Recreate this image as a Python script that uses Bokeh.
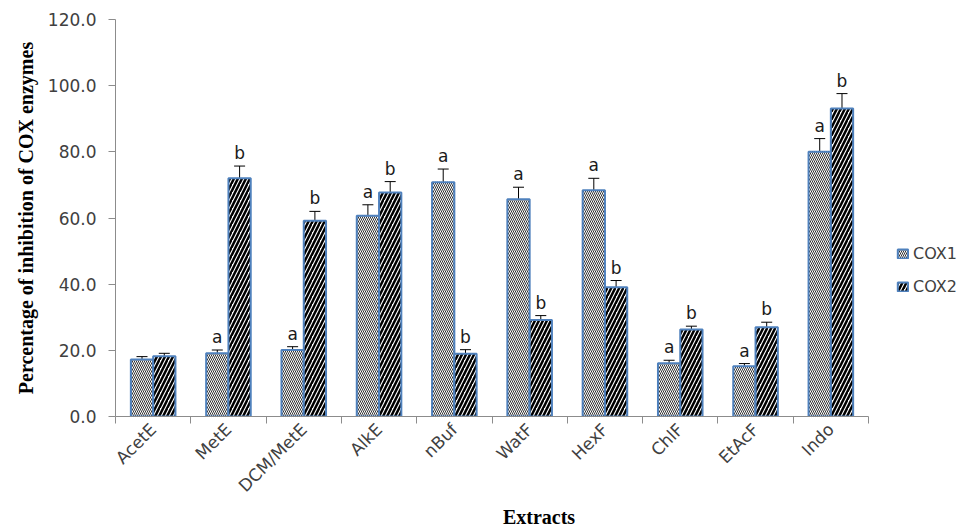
import math
from bokeh.plotting import figure
from bokeh.models import (ColumnDataSource, Range1d, LinearAxis, FixedTicker, Whisker, TeeHead,
                          Legend, LegendItem, NumeralTickFormatter, CustomJSTickFormatter)
from bokeh.core.properties import value
from bokeh.embed import file_html
from bokeh.resources import INLINE

# ---- data ----
extracts = ["AcetE", "MetE", "DCM/MetE", "AlkE", "nBuf", "WatF", "HexF", "ChlF", "EtAcF", "Indo"]
cox1 = [17.2, 19.1, 20.1, 60.7, 70.8, 65.7, 68.4, 16.1, 15.2, 80.0]
cox1_err = [0.9, 1.0, 1.0, 3.3, 4.0, 3.6, 3.6, 0.9, 0.8, 4.0]
cox2 = [18.2, 72.0, 59.2, 67.7, 19.0, 29.2, 39.1, 26.3, 27.0, 93.1]
cox2_err = [0.9, 3.7, 2.8, 3.3, 1.2, 1.3, 2.0, 1.0, 1.5, 4.5]
cox1_sig = ["", "a", "a", "a", "a", "a", "a", "a", "a", "a"]
cox2_sig = ["", "b", "b", "b", "b", "b", "b", "b", "b", "b"]
y_ticks = [0, 20, 40, 60, 80, 100, 120]
series_names = ["COX1", "COX2"]

n = len(extracts)
off = 0.148   # half of the pair, in category units
w = 0.296
centers = [i + 0.5 for i in range(n)]
x1 = [c - off for c in centers]
x2 = [c + off for c in centers]

src = ColumnDataSource(dict(
    x1=x1, x2=x2,
    cox1=cox1, cox1_lo=[v - e for v, e in zip(cox1, cox1_err)], cox1_hi=[v + e for v, e in zip(cox1, cox1_err)],
    cox2=cox2, cox2_lo=[v - e for v, e in zip(cox2, cox2_err)], cox2_hi=[v + e for v, e in zip(cox2, cox2_err)],
))

# significance letters (only the non-empty ones are drawn)
lab_x, lab_y, lab_t = [], [], []
for xs, vals, errs, sigs in [(x1, cox1, cox1_err, cox1_sig), (x2, cox2, cox2_err, cox2_sig)]:
    for xx, v, e, s in zip(xs, vals, errs, sigs):
        if s:
            lab_x.append(xx); lab_y.append(v + e); lab_t.append(s)
lab_src = ColumnDataSource(dict(x=lab_x, y=lab_y, t=lab_t))

FONT = "DejaVu Sans"
SERIF = "Liberation Serif"
TXT = "#404040"
AXC = "#8c8c8c"
BLUE = "#4F81BD"

W, H = 962, 530
LEFT, TOP, BOTTOM = 115, 19, 113
FRAME_W = W - LEFT      # frame runs to the right edge (legend lives inside it)
CAT_W = 753             # px used by the ten categories
x_end = n * FRAME_W / CAT_W

p = figure(x_range=Range1d(0, x_end), y_range=Range1d(0, 120),
           width=W, height=H, output_backend="svg", toolbar_location=None,
           x_axis_location=None, y_axis_location=None,
           min_border_left=LEFT, min_border_top=TOP, min_border_right=0, min_border_bottom=BOTTOM)
p.outline_line_color = None
p.grid.visible = False
p.background_fill_color = "white"

# y axis
yax = LinearAxis(ticker=FixedTicker(ticks=y_ticks), formatter=NumeralTickFormatter(format="0.0"),
                 axis_line_color=AXC, major_tick_line_color=AXC, major_tick_out=7, major_tick_in=0,
                 minor_tick_line_color=None, major_label_text_font=FONT, major_label_text_font_size="17px",
                 major_label_text_color=TXT, major_label_standoff=12,
                 axis_label="Percentage of inhibition of COX enzymes", axis_label_text_font=SERIF,
                 axis_label_text_font_style="bold", axis_label_text_font_size="20px",
                 axis_label_text_color="black", axis_label_standoff=8)
p.add_layout(yax, "left")

# x axis: names at the centres, tick marks at the category boundaries (minor ticks)
xax = LinearAxis(ticker=FixedTicker(ticks=centers, minor_ticks=list(range(n + 1))),
                 bounds=(0, n),
                 formatter=CustomJSTickFormatter(args=dict(names=extracts),
                                                 code="return names[Math.floor(tick)];"),
                 axis_line_color=AXC, major_tick_line_color=None, major_tick_out=7, major_tick_in=0,
                 minor_tick_line_color=AXC, minor_tick_out=7, minor_tick_in=0,
                 major_label_orientation=math.pi / 4, major_label_text_font=FONT,
                 major_label_text_font_size="17px", major_label_text_color=TXT, major_label_standoff=3,
                 axis_label="Extracts", axis_label_text_font=SERIF, axis_label_text_font_style="bold",
                 axis_label_text_font_size="20px", axis_label_text_color="black", axis_label_standoff=0)
p.add_layout(xax, "below")

r1 = p.vbar(x="x1", top="cox1", width=w, source=src,
            fill_color="white", line_color=BLUE, line_width=2,
            hatch_pattern="left_diagonal_line", hatch_color="#333333", hatch_scale=4, hatch_weight=1)
r2 = p.vbar(x="x2", top="cox2", width=w, source=src,
            fill_color="white", line_color=BLUE, line_width=2,
            hatch_pattern="right_diagonal_line", hatch_color="black", hatch_scale=8, hatch_weight=2.5)

for xb, lo, hi in [("x1", "cox1_lo", "cox1_hi"), ("x2", "cox2_lo", "cox2_hi")]:
    wk = Whisker(base=xb, lower=lo, upper=hi, source=src,
                 line_color="black", line_width=1,
                 upper_head=TeeHead(size=11, line_color="black", line_width=1),
                 lower_head=TeeHead(size=11, line_color="black", line_width=1))
    p.add_layout(wk)

p.text(x="x", y="y", text="t", source=lab_src,
       text_font=value(FONT), text_font_size="17px", text_color="#1a1a1a",
       text_align="center", text_baseline="bottom", y_offset=-3)

legend = Legend(items=[LegendItem(label=series_names[0], renderers=[r1]),
                       LegendItem(label=series_names[1], renderers=[r2])],
                location=(781, 120), border_line_color=None, background_fill_alpha=0,
                glyph_width=13, glyph_height=11, label_height=20, label_text_font=FONT,
                label_text_font_size="16px", label_text_color=TXT, spacing=13,
                padding=0, margin=0, label_standoff=4)
p.add_layout(legend)

open("out.html", "w").write(file_html(p, INLINE))
